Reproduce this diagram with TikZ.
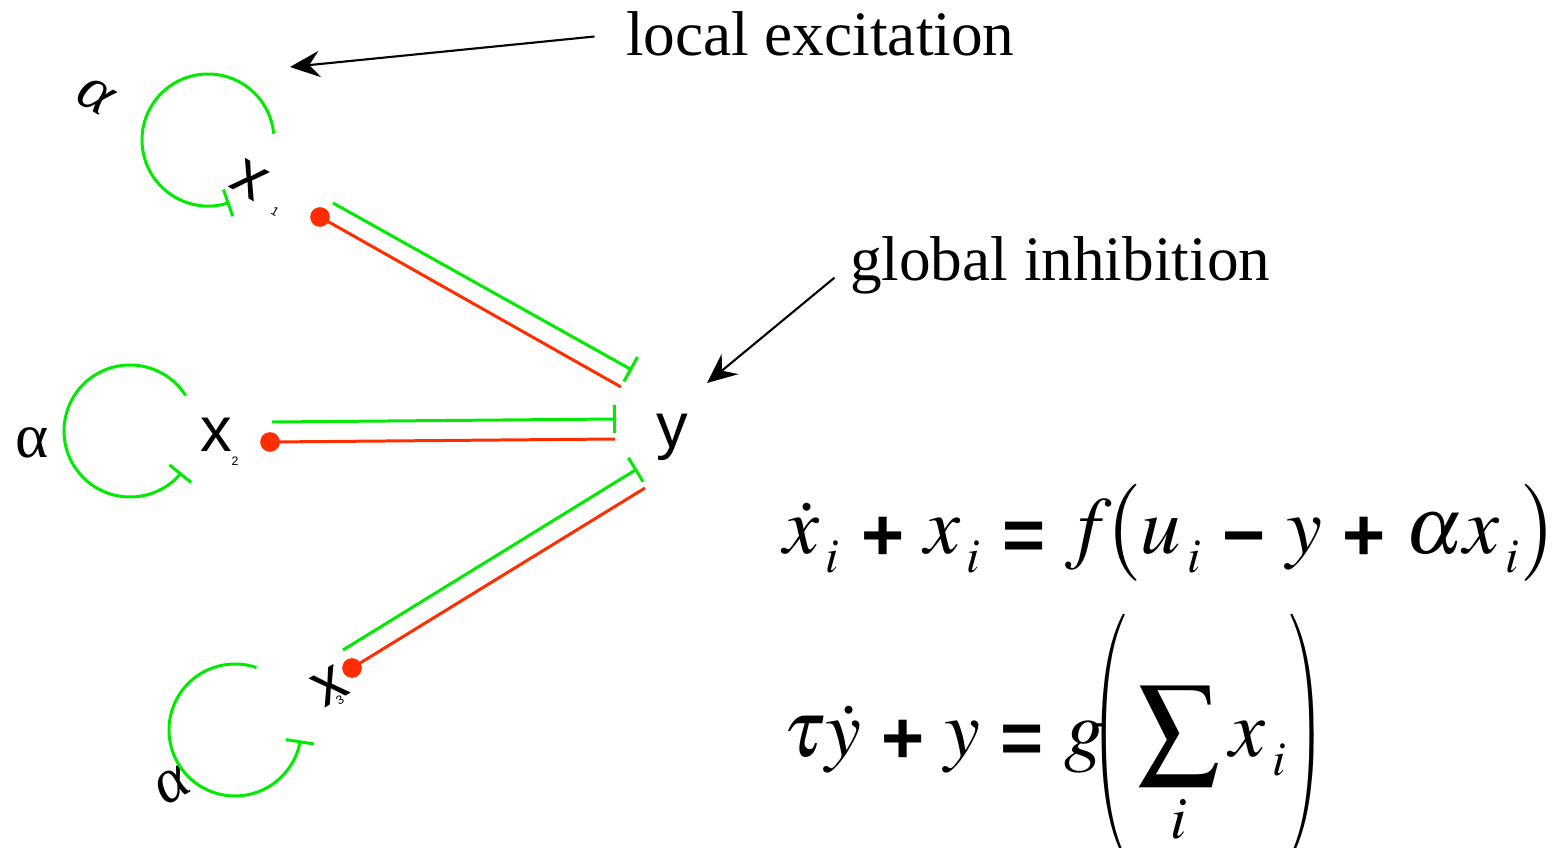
\documentclass[tikz,border=0pt]{standalone}
\usepackage{amsmath}
\usepackage{graphicx}
\usepackage{mathptmx}
\usepackage[no-math]{fontspec}
\setmainfont{Liberation Serif}
\setsansfont{Liberation Sans}
\usetikzlibrary{arrows.meta,positioning}
\definecolor{ExcGreen}{RGB}{0,235,0}
\definecolor{InhRed}{RGB}{255,45,0}
\medmuskip=4.5mu
\thickmuskip=4.5mu
\newcommand{\eqop}[1]{\raisebox{-2pt}{\fontsize{21}{21}\selectfont\bfseries\sffamily #1}}
\newcommand{\subi}{_{\mkern2mu\lower2pt\hbox{$\scriptscriptstyle i$}}}
\newcommand{\tallL}{\scalebox{0.55}[1]{$\displaystyle\left(\vphantom{\sum_i}\right.$}}
\newcommand{\tallR}{\scalebox{0.55}[1]{$\displaystyle\left.\vphantom{\sum_i}\right)$}}

\begin{document}
\begin{tikzpicture}[
  x=0.01cm,y=-0.01cm,
  every node/.style={inner sep=0pt,outer sep=0pt},
  lbl/.style={font=\fontsize{18}{20}\selectfont},
  var/.style={font=\sffamily\fontsize{18}{20}\selectfont},
  sub/.style={font=\sffamily\fontsize{3.5}{4}\selectfont},
  eqn/.style={font=\fontsize{23}{30}\selectfont,anchor=base west},
  ptr/.style={-{Stealth[length=8.5pt,width=7.5pt,inset=3pt]},line width=0.6pt},
  exc/.style={-{Bar[width=8pt,line width=0.85pt]},line width=0.85pt,ExcGreen},
  inh/.style={line width=0.85pt,InhRed},
  dot/.style={circle,fill=InhRed,minimum size=5.6pt}
]
  \useasboundingbox (0,0) rectangle (1562,848);

  \node[var,rotate=-30] (x1) at (250,180) {x};
  \node[sub,rotate=-30] (s1) at (275,212) {1};
  \node[var] (x2) at (216,435) {x};
  \node[sub] (s2) at (235,461) {2};
  \node[var,rotate=30] (x3) at (330,686) {x};
  \node[sub,rotate=30] (s3) at (340,700) {3};
  \node[var] (y) at (672,437) {y};

  \node[lbl,rotate=-30] (a1) at (95,96) {\itshape α};
  \node[lbl] (a2) at (32,443) {α};
  \node[lbl,rotate=30] (a3) at (173,786) {\itshape α};

  \node[dot] (d1) at (320,217) {};
  \node[dot] (d2) at (270,442) {};
  \node[dot] (d3) at (352,668) {};

  \coordinate (r1) at (621,387);
  \coordinate (r2) at (615,439);
  \coordinate (r3) at (645,488);
  \draw[inh] (d1.center) -- (r1);
  \draw[inh] (d2.center) -- (r2);
  \draw[inh] (d3.center) -- (r3);

  \coordinate (g1a) at (333,203);
  \coordinate (g1b) at (632,370);
  \coordinate (g2a) at (272,422);
  \coordinate (g2b) at (616,419);
  \coordinate (g3a) at (343,650);
  \coordinate (g3b) at (637,469);
  \draw[exc] (g1a) -- (g1b);
  \draw[exc] (g2a) -- (g2b);
  \draw[exc] (g3a) -- (g3b);

  \coordinate (c1) at (208,140);
  \coordinate (c2) at (130,431);
  \coordinate (c3) at (235,730);
  \draw[exc] (c1) ++(-5.5:66) arc[start angle=-5.5,end angle=-289,radius=66];
  \draw[exc] (c2) ++(-32.5:66) arc[start angle=-32.5,end angle=-321,radius=66];
  \draw[exc] (c3) ++(-71:66) arc[start angle=-71,end angle=-351,radius=66];

  \node[lbl,anchor=base west] (lexc) at (626,55) {local excitation};
  \node[lbl,anchor=base west] (ginh) at (850,280) {global inhibition};
  \coordinate (lexcTip) at (290,67);
  \coordinate (ginhTip) at (707,383);
  \draw[ptr,shorten <=9pt] (lexc.west) -- (lexcTip);
  \draw[ptr,shorten <=5.7pt] (ginh.west) -- (ginhTip);

  \node[eqn] (eq1) at (783,553) {$\dot{x}\subi \mathbin{\eqop{+}} x\subi \mathrel{\eqop{=}} f\mkern-2mu\bigl(u\subi \mathbin{\eqop{−}} y \mathbin{\eqop{+}} \alpha x\subi\bigr)$};
  \node[eqn] (eq2) at (783,756) {$\tau\dot{y} \mathbin{\eqop{+}} y \mathrel{\eqop{=}} g\mkern-3mu\tallL\displaystyle\sum_{i} x\subi\tallR$};
\end{tikzpicture}
\end{document}
